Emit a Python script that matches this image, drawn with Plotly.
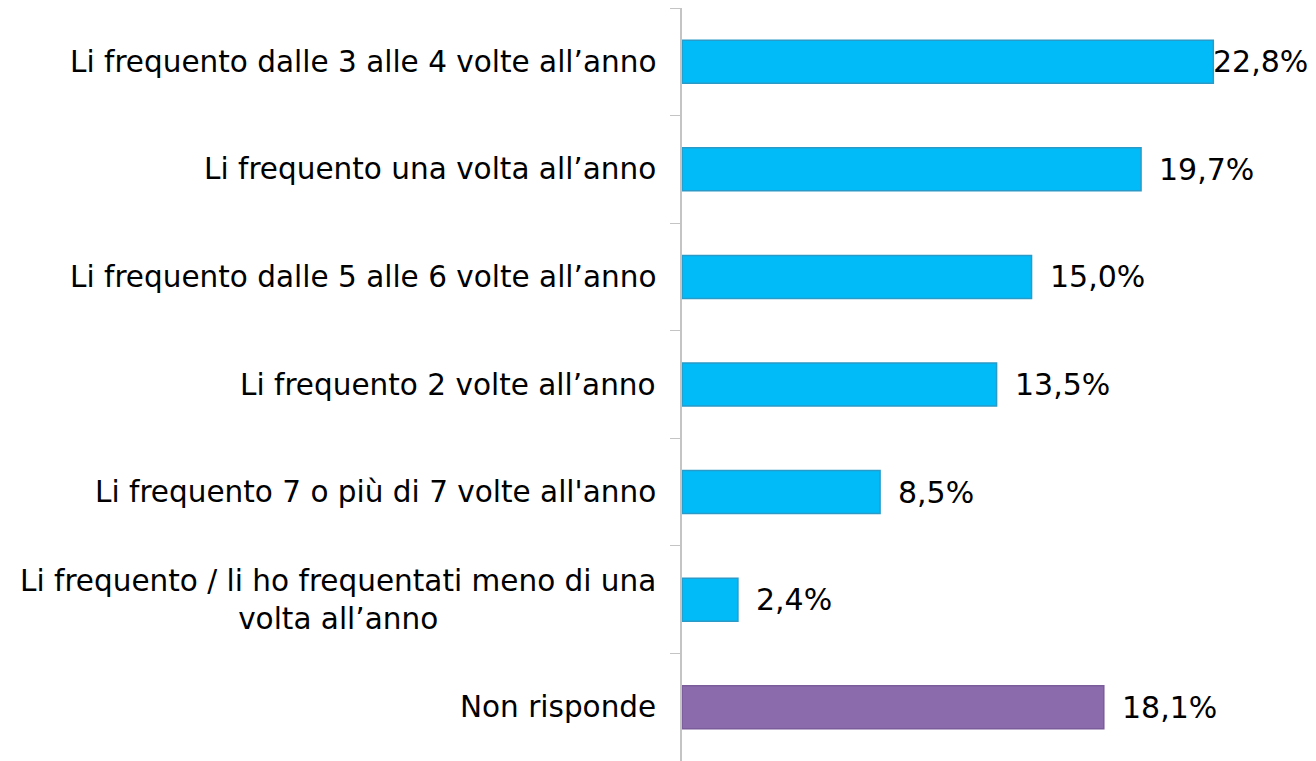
import plotly.graph_objects as go

# ---------- DATA ----------
categories = [
    "Li frequento dalle 3 alle 4 volte all’anno",
    "Li frequento una volta all’anno",
    "Li frequento dalle 5 alle 6 volte all’anno",
    "Li frequento 2 volte all’anno",
    "Li frequento 7 o più di 7 volte all'anno",
    "Li frequento / li ho frequentati meno di una<br>volta all’anno",
    "Non risponde",
]
values = [22.8, 19.7, 15.0, 13.5, 8.5, 2.4, 18.1]
value_labels = ["22,8%", "19,7%", "15,0%", "13,5%", "8,5%", "2,4%", "18,1%"]

BLUE = "#00BBF7"
BLUE_EDGE = "#2A9BC8"
PURPLE = "#8B6BAC"
PURPLE_EDGE = "#7A5C9A"
FONT = "DejaVu Sans, Verdana, sans-serif"
X_MAX = 27.55
W, H = 1316, 761
LEFT = 674
PLOT_W = W - LEFT

colors = [BLUE] * 6 + [PURPLE]
edges = [BLUE_EDGE] * 6 + [PURPLE_EDGE]

fig = go.Figure()
fig.add_trace(go.Bar(
    y=categories, x=values, orientation="h",
    width=0.4,
    marker=dict(color=colors, line=dict(color=edges, width=1.5)),
    hoverinfo="skip",
))

# category labels (centred multi-line, right edge next to axis)
for cat in categories:
    fig.add_annotation(
        x=0, xref="paper", y=cat, yref="y",
        text=cat, showarrow=False,
        xanchor="right", align="center", xshift=-24,
        font=dict(family=FONT, size=29.5, color="#000000"),
    )

# value labels; a label that would run off the page is pulled in to the bar end
for cat, v, lab in zip(categories, values, value_labels):
    end_px = v / X_MAX * PLOT_W
    shift = 16 if end_px + 16 + 100 < PLOT_W else -2
    fig.add_annotation(
        x=v, xref="x", y=cat, yref="y",
        text=lab, showarrow=False,
        xanchor="left", xshift=shift,
        font=dict(family=FONT, size=30, color="#000000"),
    )

fig.update_layout(
    width=W, height=H,
    margin=dict(l=LEFT, r=0, t=0, b=8),
    plot_bgcolor="white", paper_bgcolor="white",
    showlegend=False,
    bargap=0.6,
)
fig.update_xaxes(range=[0, X_MAX], visible=False, showgrid=False, zeroline=False)
fig.update_yaxes(
    autorange="reversed", showticklabels=False,
    showline=True, linecolor="#C4C4C4", linewidth=1.5,
    ticks="outside", tickson="boundaries", ticklen=10, tickcolor="#C4C4C4",
    showgrid=False,
)

fig.write_html("out.html")
